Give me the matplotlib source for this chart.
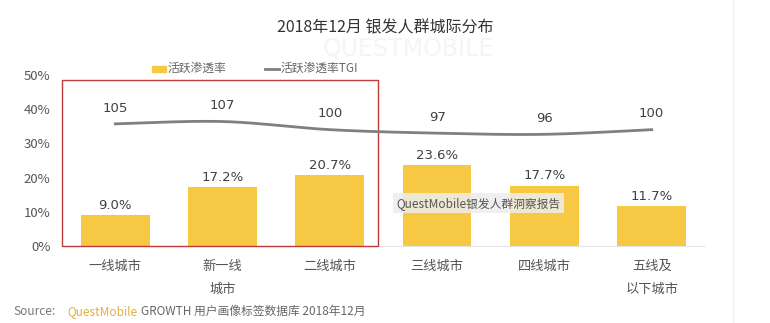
import matplotlib
matplotlib.use("Agg")
import matplotlib.pyplot as plt
import numpy as np
from matplotlib.patches import Rectangle

plt.rcParams['font.family'] = ['Noto Sans CJK SC', 'DejaVu Sans']

categories = ["一线城市", "新一线\n城市", "二线城市", "三线城市", "四线城市", "五线及\n以下城市"]
penetration = [9.0, 17.2, 20.7, 23.6, 17.7, 11.7]
tgi = [105, 107, 100, 97, 96, 100]
yticks = [0, 10, 20, 30, 40, 50]

bar_color = "#F7C843"
line_color = "#7F7F7F"
text_color = "#404040"
tick_color = "#555555"

fig = plt.figure(figsize=(7.7, 3.23), dpi=100)
ax = fig.add_axes([0.08, 0.238, 0.836, 0.530])
x = np.arange(len(categories))

ax.bar(x, penetration, width=0.64, color=bar_color, zorder=2)
for xi, v in zip(x, penetration):
    ax.text(xi, v + 1.0, f"{v:.1f}%", ha="center", va="bottom", fontsize=9.5,
            color=text_color, family="DejaVu Sans")

ax.set_xlim(-0.5, 5.5)
ax.set_ylim(0, 50)
ax.set_yticks(yticks)
ax.set_yticklabels([f"{t}%" for t in yticks], fontsize=9.5, color=tick_color)
ax.set_xticks(x)
ax.set_xticklabels(categories, fontsize=9.5, color=tick_color, linespacing=2.0, va="top")
ax.tick_params(axis="both", length=0)
ax.tick_params(axis="y", pad=8)
ax.tick_params(axis="x", pad=10)
for s in ["top", "right", "left"]:
    ax.spines[s].set_visible(False)
ax.spines["bottom"].set_color("#E5E5E5")
ax.spines["bottom"].set_linewidth(0.8)

# TGI line on hidden secondary axis
ax2 = ax.twinx()
ax2.set_ylim(0, 147)
ax2.axis("off")

def catmull(xp, yp, n=60):
    pts_x, pts_y = [], []
    P = list(zip(xp, yp))
    P = [P[0]] + P + [P[-1]]
    for i in range(1, len(P) - 2):
        p0, p1, p2, p3 = [np.array(p, float) for p in P[i-1:i+3]]
        t = np.linspace(0, 1, n)[:, None]
        seg = 0.5 * ((2*p1) + (-p0 + p2)*t + (2*p0 - 5*p1 + 4*p2 - p3)*t**2 + (-p0 + 3*p1 - 3*p2 + p3)*t**3)
        pts_x.extend(seg[:, 0]); pts_y.extend(seg[:, 1])
    return pts_x, pts_y

cx, cy = catmull(list(x), tgi)
ax2.plot(cx, cy, color=line_color, lw=2.0, zorder=3)
for xi, v in zip(x, tgi):
    ax2.text(xi, v + 8, f"{v}", ha="center", va="bottom", fontsize=9.5,
             color=text_color, family="DejaVu Sans")

# red highlight box
ax.add_patch(Rectangle((-0.5, 0), 2.95, 48.5, fill=False, edgecolor="#C0393B",
                       lw=1.0, zorder=4, clip_on=False))

# watermark label
ax.text(2.62, 12.5, "QuestMobile银发人群洞察报告", ha="left", va="center", fontsize=8.5,
        color="#555555", zorder=5,
        bbox=dict(boxstyle="square,pad=0.3", fc="#EDEDED", ec="none", alpha=0.85))
fig.text(0.53, 0.848, "QUESTMOBILE", ha="center", va="center", fontsize=17,
         color="#F5F5F5", zorder=0, family="DejaVu Sans")

# title
fig.text(0.5, 0.915, "2018年12月 银发人群城际分布", ha="center", va="center",
         fontsize=11.5, color="#333333", zorder=2)

# legend
fig.patches.append(Rectangle((0.197, 0.778), 0.018, 0.018, transform=fig.transFigure,
                             color=bar_color, figure=fig))
fig.text(0.217, 0.787, "活跃渗透率", ha="left", va="center", fontsize=8.5, color="#666666")
fig.lines.append(plt.Line2D([0.344, 0.362], [0.787, 0.787], transform=fig.transFigure,
                            color=line_color, lw=2, figure=fig))
fig.text(0.364, 0.787, "活跃渗透率TGI", ha="left", va="center", fontsize=8.5, color="#666666")

# source
fig.text(0.018, 0.037, "Source:", ha="left", va="center", fontsize=8.5, color="#777777")
fig.text(0.087, 0.037, "QuestMobile", ha="left", va="center", fontsize=8.5, color="#E0B040")
fig.text(0.183, 0.037, "GROWTH 用户画像标签数据库 2018年12月", ha="left", va="center",
         fontsize=8.5, color="#666666")

# right border line
fig.lines.append(plt.Line2D([0.952, 0.952], [0, 1], transform=fig.transFigure,
                            color="#F0F0F0", lw=1, figure=fig))

fig.savefig("out.png", dpi=100)
